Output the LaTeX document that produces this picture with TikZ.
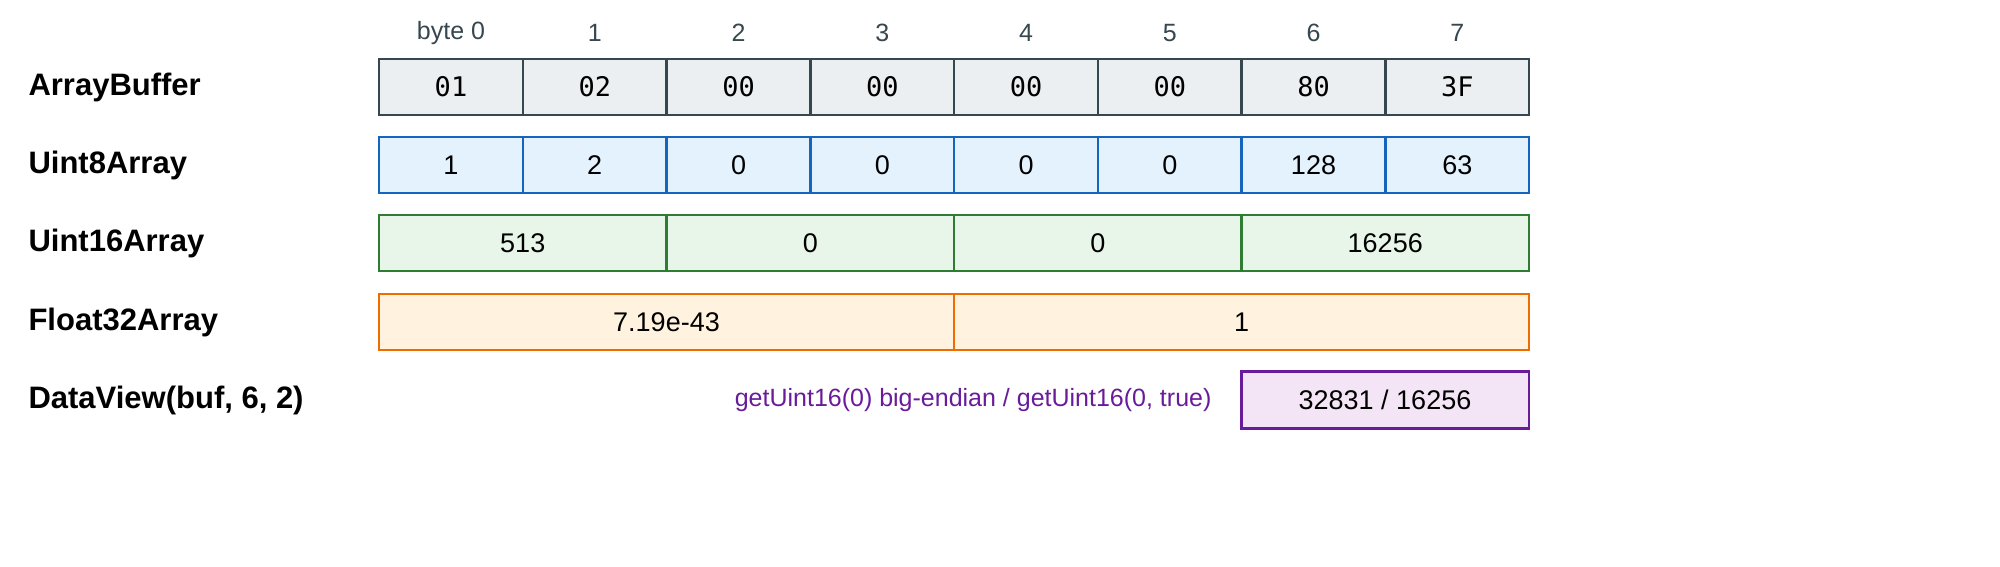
\documentclass[tikz,border=0pt]{standalone}
\usepackage{fontspec}
\setmainfont{Liberation Sans}
\setmonofont{DejaVu Sans Mono}
\usetikzlibrary{positioning}
\definecolor{abDraw}{HTML}{37474F}\definecolor{abFill}{HTML}{ECEFF1}
\definecolor{u8Draw}{HTML}{1565C0}\definecolor{u8Fill}{HTML}{E3F2FD}
\definecolor{u16Draw}{HTML}{2E7D32}\definecolor{u16Fill}{HTML}{E8F5E9}
\definecolor{f32Draw}{HTML}{EF6C00}\definecolor{f32Fill}{HTML}{FFF3E0}
\definecolor{dvDraw}{HTML}{6A1B9A}\definecolor{dvFill}{HTML}{F3E5F5}
\begin{document}
\begin{tikzpicture}[x=1pt,y=-1pt]
        \tikzset{cell/.style={rectangle,line width=2.5pt,minimum height=56pt,inner sep=0pt,font=\fontsize{27}{30}\selectfont},
                 rowname/.style={anchor=west,font=\fontsize{31}{34}\selectfont\bfseries},
                 head/.style={font=\fontsize{25}{28}\selectfont,text=abDraw}}
        \useasboundingbox (0,0) rectangle (2000,567);
        % header
        \foreach \i/\t in {0/byte 0,1/1,2/2,3/3,4/4,5/5,6/6,7/7}
            \node[head] (h\i) at (451+143.75*\i,33) {\t};
        % row names
        \node[rowname] (nab) at (25,87) {ArrayBuffer};
        \node[rowname] (nu8) at (25,165) {Uint8Array};
        \node[rowname] (nu16) at (25,243) {Uint16Array};
        \node[rowname] (nf32) at (25,322) {Float32Array};
        \node[rowname] (ndv) at (25,400) {DataView(buf, 6, 2)};
        % bytes
        \foreach \i/\t in {0/01,1/02,2/00,3/00,4/00,5/00,6/80,7/3F}
            \node[cell,draw=abDraw,fill=abFill,minimum width=143.75pt,font=\fontsize{27}{30}\selectfont\ttfamily] (ab\i) at (451+143.75*\i,87) {\t};
        \foreach \i/\t in {0/1,1/2,2/0,3/0,4/0,5/0,6/128,7/63}
            \node[cell,draw=u8Draw,fill=u8Fill,minimum width=143.75pt] (u8\i) at (451+143.75*\i,165) {\t};
        \foreach \i/\t in {0/513,1/0,2/0,3/16256}
            \node[cell,draw=u16Draw,fill=u16Fill,minimum width=287.5pt] (u16\i) at (522.75+287.5*\i,243) {\t};
        \foreach \i/\t in {0/7.19e-43,1/1}
            \node[cell,draw=f32Draw,fill=f32Fill,minimum width=575pt] (f32\i) at (666.5+575*\i,322) {\t};
        % data view
        \node[cell,draw=dvDraw,fill=dvFill,minimum width=287.5pt,minimum height=57pt] (dv) at (1385,400) {32831 / 16256};
        \node[left=25pt of dv,text=dvDraw,font=\fontsize{25}{28}\selectfont] (dvnote) {getUint16(0) big-endian / getUint16(0, true)};
\end{tikzpicture}
\end{document}
